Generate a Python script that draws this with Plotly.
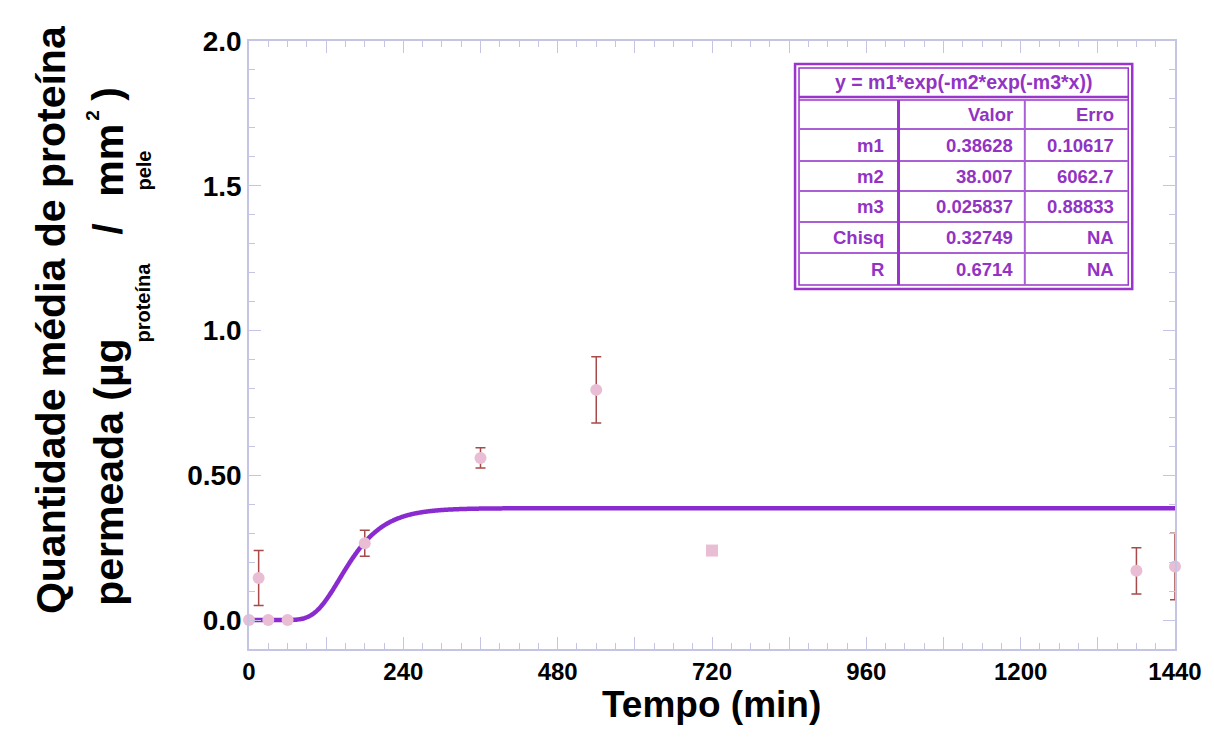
import numpy as np
import plotly.graph_objects as go

# ---------------- data ----------------
tempo = [0, 15, 30, 60, 180, 360, 540, 720, 1380, 1440]
quantidade = [0.0, 0.145, 0.0, 0.0, 0.265, 0.56, 0.795, 0.24, 0.17, 0.185]
erro = [0.0, 0.095, 0.0, 0.0, 0.045, 0.035, 0.114, 0.0, 0.08, 0.115]
simbolos = ["circle"] * 7 + ["square"] + ["circle"] * 2

# fit parameters shown in the table
m1, m2, m3 = 0.38628, 38.007, 0.025837

x_ticks = [0, 120, 240, 360, 480, 600, 720, 840, 960, 1080, 1200, 1320, 1440]
x_ticktext = ["0", "", "240", "", "480", "", "720", "", "960", "", "1200", "", "1440"]
y_ticks = [0.0, 0.5, 1.0, 1.5, 2.0]
y_ticktext = ["0.0", "0.50", "1.0", "1.5", "2.0"]

tab_title = "y = m1*exp(-m2*exp(-m3*x))"
tab_header = ["", "Valor", "Erro"]
tab_names = ["m1", "m2", "m3", "Chisq", "R"]
tab_valor = ["0.38628", "38.007", "0.025837", "0.32749", "0.6714"]
tab_erro = ["0.10617", "6062.7", "0.88833", "NA", "NA"]

# ---------------- figure ----------------
W, H = 1214, 742
L, R, T, B = 249, 1180, 41, 649
PW, PH = R - L, B - T


def px(x):
    return (x - L) / PW


def py(y):
    return (B - y) / PH


xfit = np.linspace(0, 1440, 800)
yfit = m1 * np.exp(-m2 * np.exp(-m3 * xfit))

fig = go.Figure()
fig.add_trace(go.Scatter(x=xfit, y=yfit, mode="lines",
                         line=dict(color="#8a2bd0", width=4.5, shape="spline"),
                         cliponaxis=False, hoverinfo="skip", showlegend=False))
fig.add_trace(go.Scatter(
    x=tempo, y=quantidade, mode="markers",
    marker=dict(size=12, color="#e9bdd3", symbol=simbolos),
    error_y=dict(type="data", array=erro, visible=True,
                 color="#a84a4a", thickness=1.5, width=5),
    cliponaxis=False, showlegend=False))

frame = "#c4c4e4"
tickfont = dict(family="Liberation Sans, Arial, sans-serif", size=24,
                color="black", weight="bold")
fig.update_xaxes(range=[0, 1440], tickvals=x_ticks, ticktext=x_ticktext,
                 ticks="inside", ticklen=12, tickwidth=1, tickcolor=frame,
                 showline=True, linecolor=frame, linewidth=1.5, mirror="allticks",
                 showgrid=False, zeroline=False, tickfont=tickfont,
                 ticklabelstandoff=0,
                 minor=dict(dtick=30, ticks="inside", ticklen=6, tickcolor=frame))
fig.update_yaxes(range=[-0.1, 2.0], tickvals=y_ticks, ticktext=y_ticktext,
                 ticks="inside", ticklen=12, tickwidth=1, tickcolor=frame,
                 showline=True, linecolor=frame, linewidth=1.5, mirror="allticks",
                 showgrid=False, zeroline=False,
                 tickfont=dict(tickfont, size=28),
                 minor=dict(dtick=0.1, ticks="inside", ticklen=6, tickcolor=frame))

ann = []
bold = dict(family="Liberation Sans, Arial, sans-serif", color="black", weight="bold")

# x title
ann.append(dict(text="Tempo (min)", x=px(714), y=py(704), xref="paper", yref="paper",
                xanchor="center", yanchor="middle", showarrow=False,
                font=dict(bold, size=37)))

# y title pieces (rotated)
def ytext(txt, cx, cy, size):
    ann.append(dict(text=txt, x=px(cx), y=py(cy), xref="paper", yref="paper",
                    xanchor="center", yanchor="middle", textangle=-90,
                    showarrow=False, font=dict(bold, size=size)))

ytext("Quantidade média de proteína", 50, 320, 41)
ytext("permeada (µg", 108, 472, 41)
ytext("proteína", 142, 303, 20)
ytext("/", 107, 229, 41)
ytext("mm", 108, 160, 41)
ytext("2", 91, 115, 19)
ytext(")", 106, 94, 41)
ytext("pele", 143, 171, 20)

# ---------------- fit table ----------------
purple = "#9a34cc"
txtc = "#9233c4"
shapes = []


def rect(x0, y0, x1, y1, w, c):
    shapes.append(dict(type="rect", xref="paper", yref="paper",
                       x0=px(x0), x1=px(x1), y0=py(y0), y1=py(y1),
                       line=dict(color=c, width=w), fillcolor="rgba(0,0,0,0)"))


def line(x0, y0, x1, y1, w, c):
    shapes.append(dict(type="line", xref="paper", yref="paper",
                       x0=px(x0), x1=px(x1), y0=py(y0), y1=py(y1),
                       line=dict(color=c, width=w)))


shapes.append(dict(type="rect", xref="paper", yref="paper",
                   x0=px(798), x1=px(1137), y0=py(64), y1=py(289),
                   line=dict(color=purple, width=2.5), fillcolor="white"))
rect(802, 68, 1133, 285, 1.5, purple)
line(802, 97, 1133, 97, 2.5, purple)
line(802, 100, 1133, 100, 1.5, purple)
row_lines = [129, 161, 191, 222, 253]
for yy in row_lines:
    line(802, yy, 1133, yy, 2, "#a860d4")
line(902, 100, 902, 285, 3, purple)
line(1029, 100, 1029, 285, 2, "#a860d4")

tfont = dict(family="Liberation Sans, Arial, sans-serif", size=18.5, color=txtc, weight="bold")
ann.append(dict(text=tab_title, x=px(967), y=py(82), xref="paper", yref="paper",
                xanchor="center", yanchor="middle", showarrow=False,
                font=dict(tfont, size=19.5)))
row_centers = [114.5, 145, 176, 206.5, 237.5, 269]
col_right = [889, 1019, 1121]
for j, h in enumerate(tab_header):
    if h:
        ann.append(dict(text=h, x=px(col_right[j]), y=py(row_centers[0]),
                        xref="paper", yref="paper", xanchor="right", yanchor="middle",
                        showarrow=False, font=tfont))
for i in range(len(tab_names)):
    for j, col in enumerate([tab_names, tab_valor, tab_erro]):
        ann.append(dict(text=col[i], x=px(col_right[j]), y=py(row_centers[i + 1]),
                        xref="paper", yref="paper", xanchor="right", yanchor="middle",
                        showarrow=False, font=tfont))

fig.update_layout(width=W, height=H, margin=dict(l=L, r=W - R, t=T, b=H - B),
                  paper_bgcolor="white", plot_bgcolor="white",
                  annotations=ann, shapes=shapes, showlegend=False)
fig.write_html("out.html")
